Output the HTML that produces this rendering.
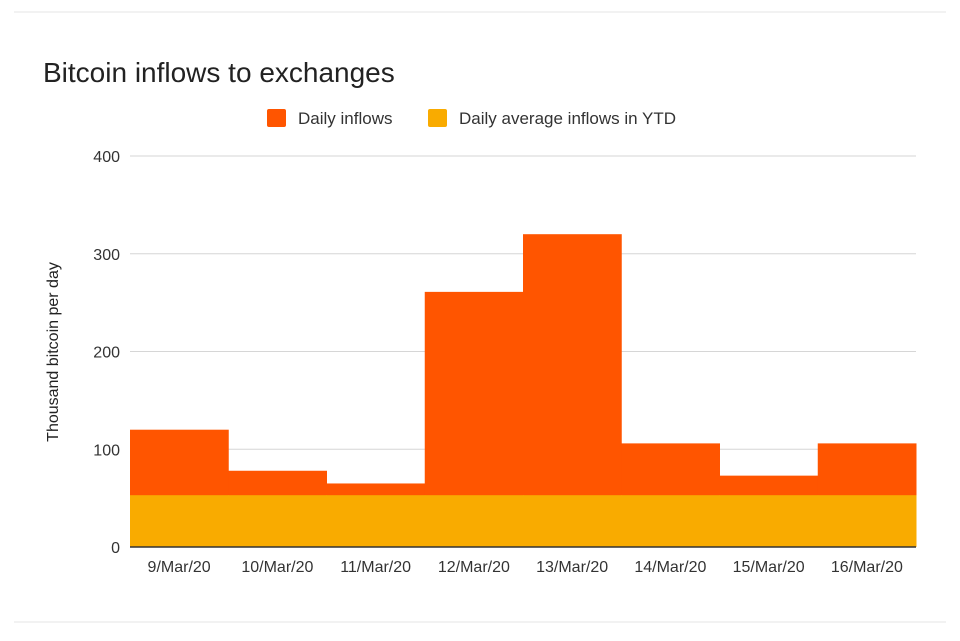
<!DOCTYPE html>
<html><head><meta charset="utf-8"><style>
body{margin:0;background:#fff;font-family:"Liberation Sans",sans-serif;}
</style></head><body>
<svg width="960" height="636" viewBox="0 0 960 636" xmlns="http://www.w3.org/2000/svg">
<line x1="14" y1="12" x2="946" y2="12" stroke="#e6e6e6"/>
<line x1="14" y1="622" x2="946" y2="622" stroke="#e6e6e6"/>
<text x="43" y="82" font-size="28" fill="#222">Bitcoin inflows to exchanges</text>
<g>
<rect x="267" y="109" width="19" height="18" rx="2" fill="#ff5500"/>
<text x="298" y="124" font-size="17" fill="#333">Daily inflows</text>
<rect x="428" y="109" width="19" height="18" rx="2" fill="#f9ab00"/>
<text x="459" y="124" font-size="17" fill="#333">Daily average inflows in YTD</text>
</g>
<text transform="translate(58,352) rotate(-90)" text-anchor="middle" font-size="16" fill="#222">Thousand bitcoin per day</text>
<g id="grid"></g><g id="marks"></g><g id="xlabels"></g>
</svg>
<script>
const categories=["9/Mar/20","10/Mar/20","11/Mar/20","12/Mar/20","13/Mar/20","14/Mar/20","15/Mar/20","16/Mar/20"];
const dailyInflows=[120,78,65,261,320,106,73,106];
const averageInflows=[53,53,53,53,53,53,53,53];
const yTicks=[0,100,200,300,400];
const NS="http://www.w3.org/2000/svg";
const X0=130,X1=916,Y0=547,Y1=156,YMAX=400;
const bw=(X1-X0)/categories.length;
const xs=i=>X0+i*bw;
const ys=v=>Y0-(v/YMAX)*(Y0-Y1);
function mk(t,a,p){const e=document.createElementNS(NS,t);for(const k in a)e.setAttribute(k,a[k]);p.appendChild(e);return e;}
const grid=document.getElementById('grid'),marks=document.getElementById('marks'),xl=document.getElementById('xlabels');
yTicks.forEach(v=>{
 if(v>0){const l=mk('line',{x1:X0,x2:X1,y1:ys(v),y2:ys(v),stroke:'#d6d6d6'},grid);
 
 }
 const t=mk('text',{x:120,y:ys(v)+6,'text-anchor':'end','font-size':16,fill:'#333'},grid);t.textContent=v;
 
 
});
categories.forEach((c,i)=>{
 const r=mk('rect',{x:xs(i),y:ys(dailyInflows[i]),width:bw+0.5,height:Y0-ys(dailyInflows[i]),fill:'#ff5500'},marks);
 
 
});
categories.forEach((c,i)=>{
 const r=mk('rect',{x:xs(i),y:ys(averageInflows[i]),width:bw+0.5,height:Y0-ys(averageInflows[i]),fill:'#f9ab00'},marks);
 
 
 const t=mk('text',{x:xs(i)+bw/2,y:572,'text-anchor':'middle','font-size':16,fill:'#333'},xl);t.textContent=c;
 
 
});
const ax=mk('line',{x1:X0,x2:X1,y1:Y0,y2:Y0,stroke:'#333','stroke-width':1.5},marks);


</script>
</body></html>
